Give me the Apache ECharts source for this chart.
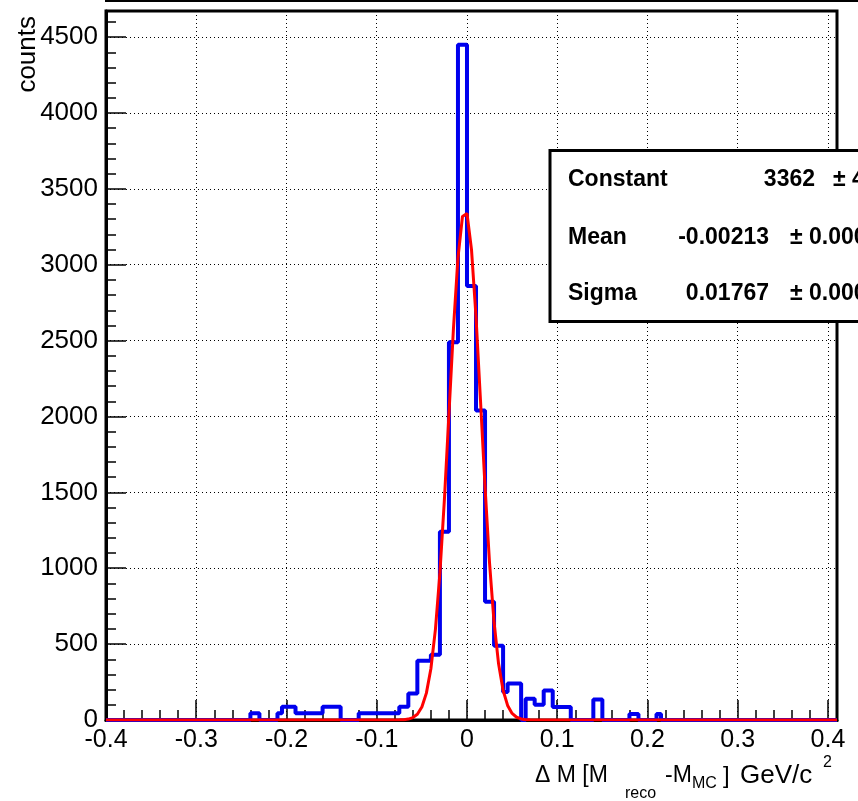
<!DOCTYPE html>
<html><head><meta charset="utf-8">
<script src="https://cdn.jsdelivr.net/npm/echarts@6/dist/echarts.min.js"></script>
<style>html,body{margin:0;padding:0;background:#fff}#c{width:858px;height:801px}</style>
</head><body><div id="c"></div>
<script>
// ---- data ----
const binStart = -0.4;      // first bin low edge
const binWidth = 0.005;     // bin width
const counts = [
  0,0,0,0,0,0,0,0,0,0,0,0,0,0,0,0,0,0,0,0,0,0,0,0,0,0,0,0,0,0,0,0,
  44,44,0,0,0,0,44,88,88,88,44,44,44,44,44,44,88,88,88,88,0,0,0,0,
  44,44,44,44,44,44,44,44,44,88,88,175,175,390,390,390,430,430,1240,1240,2490,2490,4450,4450,
  2860,2860,2040,2040,780,780,490,490,185,240,240,240,0,140,140,100,100,195,195,85,85,85,85,
  0,0,0,0,0,135,135,0,0,0,0,0,0,40,40,0,0,0,0,40,
  0,0,0,0,0,0,0,0,0,0,0,0,0,0,0,0,0,0,0,0,0,0,0,0,0,0,0,0,0,0,0,0,0,0,0,0,0,0,0
];
const fitX = [-0.4,-0.075,-0.07,-0.065,-0.06,-0.055,-0.05,-0.045,-0.04,-0.035,-0.03,-0.025,-0.02,-0.015,-0.01,-0.005,
  0,0.005,0.01,0.015,0.02,0.025,0.03,0.035,0.04,0.045,0.05,0.055,0.06,0.065,0.07,0.41];
const fitY = [0,1,2,6,16,38,86,177,338,596,969,1455,2016,2579,3045,3318,
  3338,3099,2656,2102,1535,1034,644,370,196,96,43,18,7,2,1,0];
const statNames = ['Constant','Mean','Sigma'];
const statValues = ['3362','-0.00213','0.01767'];
const statErrors = ['\u00b1 44.8','\u00b1 0.00019','\u00b1 0.00018'];
const xRange = [-0.4, 0.41];
const yRange = [0, 4672];

// ---- build ----
const histData = counts.map((c, i) => [+(binStart + i * binWidth).toFixed(4), c]);
histData.push([+(binStart + counts.length * binWidth).toFixed(4), counts[counts.length - 1]]);
const fitData = fitX.map((x, i) => [x, fitY[i]]);

const FONT = '"Liberation Sans", Arial, Helvetica, sans-serif';
const chart = echarts.init(document.getElementById('c'));

const txt = (text, x, y, size, align, weight, extra) => Object.assign({
  type: 'text', x: x, y: y, z: 100,
  style: { text: text, fontSize: size, fontWeight: weight || 'normal', fontFamily: FONT, fill: '#000', align: align, verticalAlign: 'middle' }
}, extra || {});

const statRowsY = [180, 238, 294];
const statGraphics = [];
statNames.forEach((n, i) => {
  statGraphics.push(txt(n, 568, statRowsY[i], 23, 'left', 'bold'));
  statGraphics.push(txt(statValues[i], i === 0 ? 815 : 769, statRowsY[i], 23, 'right', 'bold'));
  statGraphics.push(txt(statErrors[i], i === 0 ? 833 : 790, statRowsY[i], 23, 'left', 'bold'));
});

chart.setOption({
  animation: false,
  grid: { left: 106, right: 21, top: 11, bottom: 81, show: true, borderColor: '#000', borderWidth: 3, backgroundColor: 'transparent' },
  xAxis: [{
    type: 'value', min: xRange[0], max: xRange[1], interval: 0.1,
    axisLine: { show: true, onZero: false, lineStyle: { color: '#000', width: 3 } },
    axisTick: { show: true, inside: true, length: 20, lineStyle: { color: '#000', width: 1.5 } },
    splitLine: { show: true, lineStyle: { color: '#000', type: [1, 3], width: 1 } },
    axisLabel: { color: '#000', fontSize: 25, fontFamily: FONT, margin: 8, showMaxLabel: false,
      formatter: v => Math.abs(v - 0.41) < 1e-6 ? '' : String(Math.round(v * 10) / 10) }
  }, {
    type: 'value', min: xRange[0], max: xRange[1], interval: 0.02, position: 'bottom',
    axisLine: { show: false, onZero: false }, axisLabel: { show: false }, splitLine: { show: false },
    axisTick: { show: true, inside: true, length: 10, lineStyle: { color: '#000', width: 1.5 } }
  }],
  yAxis: [{
    type: 'value', min: yRange[0], max: yRange[1], interval: 500,
    axisLine: { show: true, onZero: false, lineStyle: { color: '#000', width: 3 } },
    axisTick: { show: true, inside: true, length: 20, lineStyle: { color: '#000', width: 1.5 } },
    splitLine: { show: true, lineStyle: { color: '#000', type: [1, 3], width: 1 } },
    axisLabel: { color: '#000', fontSize: 26, fontFamily: FONT, margin: 8, showMaxLabel: false,
      formatter: v => v > 4600 ? '' : String(v) }
  }, {
    type: 'value', min: yRange[0], max: yRange[1], interval: 100, position: 'left',
    axisLine: { show: false, onZero: false }, axisLabel: { show: false }, splitLine: { show: false },
    axisTick: { show: true, inside: true, length: 10, lineStyle: { color: '#000', width: 1.5 } }
  }],
  series: [{
    type: 'line', xAxisIndex: 0, yAxisIndex: 0, step: 'end', data: histData,
    symbol: 'none', lineStyle: { color: '#0000ee', width: 4 }, z: 3
  }, {
    type: 'line', xAxisIndex: 0, yAxisIndex: 0, data: fitData,
    symbol: 'none', lineStyle: { color: '#ff0000', width: 3 }, z: 4
  }],
  graphic: [
    { type: 'rect', z: 100, shape: { x: 105, y: 0, width: 760, height: 2 }, style: { fill: '#000' } },
    txt('counts', 28, 16, 26, 'right', 'normal', { rotation: Math.PI / 2 }),
    txt('\u0394 M [M', 535, 776, 23, 'left'),
    txt('reco', 625, 794, 16, 'left'),
    txt('-M', 665, 776, 23, 'left'),
    txt('MC', 692, 784, 16, 'left'),
    txt(']', 723, 776, 24, 'left'),
    txt('GeV/c', 740, 776, 26, 'left'),
    txt('2', 823, 763, 16, 'left'),
    { type: 'rect', z: 99, shape: { x: 550, y: 150.5, width: 330, height: 171 }, style: { fill: '#fff', stroke: '#000', lineWidth: 3 } }
  ].concat(statGraphics)
});
</script></body></html>
